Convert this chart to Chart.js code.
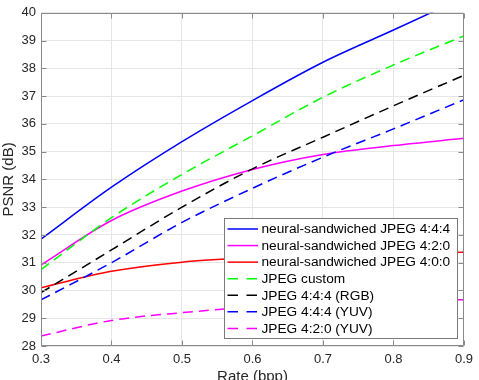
<!DOCTYPE html>
<html><head><meta charset="utf-8">
<script src="https://cdn.jsdelivr.net/npm/chart.js@4"></script>
<style>html,body{margin:0;padding:0;background:#fff;overflow:hidden}</style>
</head><body>
<canvas id="c" width="479" height="380"></canvas>
<script>
// ---- data ----
const rates = [0.3, 0.4, 0.5, 0.6, 0.7, 0.8, 0.9];
const ns444 = [31.85, 33.72, 35.36, 36.84, 38.22, 39.38, 40.55];
const ns420 = [30.92, 32.52, 33.58, 34.36, 34.90, 35.22, 35.48];
const ns400 = [30.10, 30.69, 31.02, 31.18, 31.27, 31.33, 31.38];
const jpegCustom = [30.75, 32.62, 34.18, 35.57, 36.96, 38.12, 39.17];
const jpeg444rgb = [29.92, 31.46, 33.00, 34.38, 35.52, 36.65, 37.75];
const jpeg444yuv = [29.66, 31.00, 32.45, 33.68, 34.80, 35.82, 36.87];
const jpeg420yuv = [28.36, 28.92, 29.20, 29.40, 29.53, 29.61, 29.67];
const seriesLabels = [
  'neural-sandwiched JPEG 4:4:4',
  'neural-sandwiched JPEG 4:2:0',
  'neural-sandwiched JPEG 4:0:0',
  'JPEG custom',
  'JPEG 4:4:4 (RGB)',
  'JPEG 4:4:4 (YUV)',
  'JPEG 4:2:0 (YUV)'
];
const xTickValues = [0.3, 0.4, 0.5, 0.6, 0.7, 0.8, 0.9];
const yTickValues = [28, 29, 30, 31, 32, 33, 34, 35, 36, 37, 38, 39, 40];
const xTitle = 'Rate (bpp)';
const yTitle = 'PSNR (dB)';

// ---- styling ----
const FONT = '"Liberation Sans", Arial, Helvetica, sans-serif';
const AXIS = '#8a8a8a';
const GRID = '#e6e6e6';
const TXT = '#262626';
const DASH = [10, 6];

const series = [
  {label: seriesLabels[0], data: ns444, color: '#0000ff', dashed: false},
  {label: seriesLabels[1], data: ns420, color: '#ff00ff', dashed: false},
  {label: seriesLabels[2], data: ns400, color: '#ff0000', dashed: false},
  {label: seriesLabels[3], data: jpegCustom, color: '#00ff00', dashed: true},
  {label: seriesLabels[4], data: jpeg444rgb, color: '#000000', dashed: true},
  {label: seriesLabels[5], data: jpeg444yuv, color: '#0000ff', dashed: true},
  {label: seriesLabels[6], data: jpeg420yuv, color: '#ff00ff', dashed: true}
];

const datasets = series.map((s, i) => ({
  label: s.label,
  data: rates.map((r, k) => ({x: r, y: s.data[k]})),
  borderColor: s.color,
  backgroundColor: s.color,
  borderWidth: 1.5,
  borderDash: s.dashed ? DASH : [],
  pointRadius: 0,
  pointHoverRadius: 0,
  fill: false,
  cubicInterpolationMode: 'monotone',
  order: series.length - i
}));

const framePlugin = {
  id: 'frame',
  afterDatasetsDraw(chart) {
    const {ctx, chartArea: a, scales: {x, y}} = chart;
    const L = Math.round(a.left) + 0.5, R = Math.round(a.right) - 0.5;
    const T = Math.round(a.top) + 0.5, B = Math.round(a.bottom) - 0.5;
    ctx.save();
    ctx.strokeStyle = AXIS;
    ctx.lineWidth = 1;
    ctx.setLineDash([]);
    ctx.beginPath();
    ctx.rect(L, T, R - L, B - T);
    const tl = 5;
    xTickValues.forEach(v => {
      const px = Math.round(x.getPixelForValue(v)) + 0.5;
      ctx.moveTo(px, B); ctx.lineTo(px, B - tl);
      ctx.moveTo(px, T); ctx.lineTo(px, T + tl);
    });
    yTickValues.forEach(v => {
      const py = Math.round(y.getPixelForValue(v)) + 0.5;
      ctx.moveTo(L, py); ctx.lineTo(L + tl, py);
      ctx.moveTo(R, py); ctx.lineTo(R - tl, py);
    });
    ctx.stroke();

    // legend (inside plot, lower right)
    const ds = chart.data.datasets;
    ctx.font = '13.7px ' + FONT;
    let maxW = 0;
    ds.forEach(d => { maxW = Math.max(maxW, ctx.measureText(d.label).width); });
    const rowH = 16.57, padT = 10.5, padB = 9.8;
    const textOff = 37, padR = 7;
    const w = textOff + maxW + padR;
    const h = padT + rowH * (ds.length - 1) + padB;
    const bx = Math.round(a.right - 7 - w) + 0.5;
    const by = Math.round(a.bottom - 8.5 - h) + 0.5;
    ctx.fillStyle = '#ffffff';
    ctx.fillRect(bx, by, Math.round(w), Math.round(h));
    ctx.strokeStyle = '#7a7a7a';
    ctx.strokeRect(bx, by, Math.round(w), Math.round(h));
    ds.forEach((d, i) => {
      const cy = by + padT + rowH * i;
      ctx.strokeStyle = d.borderColor;
      ctx.lineWidth = 1.5;
      ctx.setLineDash(d.borderDash && d.borderDash.length ? [10.5, 8.5] : []);
      ctx.beginPath();
      ctx.moveTo(bx + 3, cy);
      ctx.lineTo(bx + 33.5, cy);
      ctx.stroke();
      ctx.setLineDash([]);
      ctx.fillStyle = '#000000';
      ctx.textAlign = 'left';
      ctx.textBaseline = 'middle';
      ctx.fillText(d.label, bx + textOff, cy + 0.5);
    });
    ctx.restore();
  }
};

new Chart(document.getElementById('c'), {
  type: 'line',
  data: {datasets},
  options: {
    responsive: false,
    animation: false,
    devicePixelRatio: 1,
    layout: {padding: {top: 9, right: 11, left: 0, bottom: 0}},
    plugins: {legend: {display: false}, tooltip: {enabled: false}, title: {display: false}},
    scales: {
      x: {
        type: 'linear',
        min: 0.3, max: 0.9,
        afterBuildTicks: s => { s.ticks = xTickValues.map(v => ({value: v})); },
        afterFit: s => { s.height = 34; },
        grid: {color: GRID, drawTicks: false, lineWidth: 1},
        border: {display: false},
        ticks: {
          padding: 6, color: TXT, maxRotation: 0, autoSkip: false,
          font: {family: FONT, size: 13, lineHeight: 1.2},
          callback: v => Number(v).toFixed(1)
        },
        title: {display: true, text: xTitle, color: TXT,
          font: {family: FONT, size: 15, lineHeight: 0.4}, padding: {top: 0, bottom: 0}}
      },
      y: {
        type: 'linear',
        min: 28, max: 40,
        afterBuildTicks: s => { s.ticks = yTickValues.map(v => ({value: v})); },
        afterFit: s => { s.width = 41; },
        grid: {color: GRID, drawTicks: false, lineWidth: 1},
        border: {display: false},
        ticks: {
          padding: 5, color: TXT, autoSkip: false,
          font: {family: FONT, size: 13, lineHeight: 1.2},
          callback: v => String(v)
        },
        title: {display: true, text: yTitle, color: TXT,
          font: {family: FONT, size: 15, lineHeight: 1}, padding: {top: 1, bottom: 0}}
      }
    }
  },
  plugins: [framePlugin]
});
</script>
</body></html>
